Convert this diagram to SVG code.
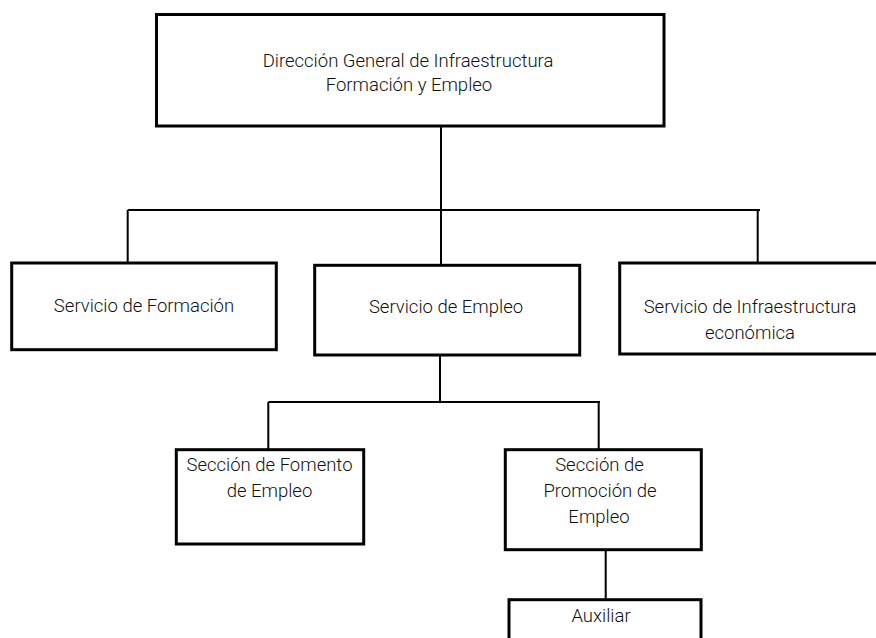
<svg xmlns="http://www.w3.org/2000/svg" width="876" height="638" viewBox="0 0 876 638">
<style>
.box{fill:#fff;stroke:#000;stroke-width:3}
.ln{fill:none;stroke:#000;stroke-width:2}
text{font-family:Roboto,"Liberation Sans",sans-serif;font-size:18.5px;font-weight:300;fill:#111;text-anchor:middle}
</style>
<rect width="876" height="638" fill="#fff"/>
<g id="connectors">
<path class="ln" d="M441 127V210M127.7 210H760M127.7 210V262M441 210V264M757.7 210V262M440 356V402M268.3 402H600M268.3 402V449M598.7 402V449M605.7 551V600"/>
</g>
<g id="n-direccion">
<rect class="box" x="156.5" y="14.5" width="507.5" height="111.5"/>
<text x="408" y="67">Dirección General de Infraestructura</text>
<text x="409" y="91">Formación y Empleo</text>
</g>
<g id="n-formacion">
<rect class="box" x="11.7" y="263" width="264.6" height="86.7"/>
<text x="144" y="312">Servicio de Formación</text>
</g>
<g id="n-empleo">
<rect class="box" x="314.7" y="265.3" width="265" height="89.7"/>
<text x="446" y="313">Servicio de Empleo</text>
</g>
<g id="n-infra">
<rect class="box" x="619.7" y="263" width="300" height="91"/>
<text x="750" y="313">Servicio de Infraestructura</text>
<text x="750" y="339">económica</text>
</g>
<g id="n-fomento">
<rect class="box" x="176.3" y="449.7" width="187.4" height="94.3"/>
<text x="269.5" y="471">Sección de Fomento</text>
<text x="269.5" y="497">de Empleo</text>
</g>
<g id="n-promocion">
<rect class="box" x="505.3" y="449.7" width="196" height="100"/>
<text x="599.5" y="471">Sección de</text>
<text x="600" y="497">Promoción de</text>
<text x="599" y="523">Empleo</text>
</g>
<g id="n-auxiliar">
<rect class="box" x="509" y="599.7" width="192" height="60"/>
<text x="601" y="621.5">Auxiliar</text>
</g>
</svg>
